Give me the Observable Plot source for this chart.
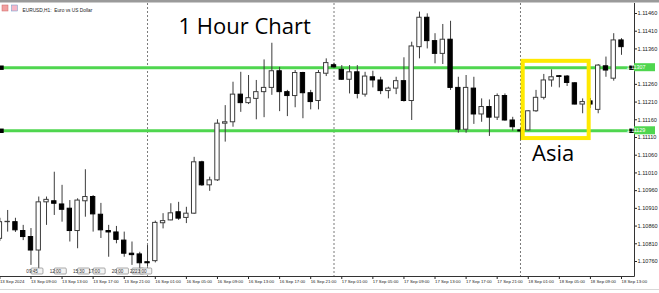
<!DOCTYPE html>
<html><head><meta charset="utf-8">
<script src="https://cdn.jsdelivr.net/npm/d3@7"></script>
<script src="https://cdn.jsdelivr.net/npm/@observablehq/plot@0.6"></script>
<style>html,body{margin:0;padding:0;background:#fff;overflow:hidden}</style>
</head><body><div id="chart"></div>
<script>
// EURUSD H1, bars 13 Sep 05:00 .. 18 Sep 13:00 (index 0..80)
const opens = [1.10824,1.10871,1.10871,1.10846,1.10829,1.10791,1.10927,1.10930,1.10921,1.10909,
1.10846,1.10930,1.10942,1.10892,1.10846,1.10842,1.10819,1.10782,1.10780,1.10758,
1.10761,1.10868,1.10876,1.10899,1.10883,1.10895,1.11040,1.10975,1.10989,1.11149,
1.11153,1.11231,1.11207,1.11219,1.11238,1.11250,1.11297,1.11238,1.11227,1.11292,
1.11235,1.11213,1.11290,1.11314,1.11301,1.11273,1.11294,1.11231,1.11280,1.11271,
1.11241,1.11248,1.11269,1.11213,1.11365,1.11448,1.11382,1.11346,1.11386,1.11250,
1.11132,1.11248,1.11175,1.11196,1.11166,1.11227,1.11158,1.11130,1.11130,1.11184,
1.11222,1.11271,1.11283,1.11282,1.11263,1.11203,1.11212,1.11188,1.11311,1.11276,1.11384];
const highs = [1.10882,1.10904,1.10882,1.10862,1.10853,1.10942,1.10942,1.11012,1.10975,1.10932,
1.10937,1.11019,1.10946,1.10924,1.10862,1.10859,1.10843,1.10815,1.10786,1.10805,
1.10874,1.10895,1.10923,1.10927,1.10913,1.11054,1.11043,1.10998,1.11160,1.11200,
1.11266,1.11294,1.11285,1.11271,1.11329,1.11376,1.11308,1.11243,1.11299,1.11294,
1.11243,1.11299,1.11332,1.11320,1.11313,1.11313,1.11313,1.11294,1.11297,1.11280,
1.11252,1.11280,1.11335,1.11379,1.11464,1.11459,1.11403,1.11429,1.11438,1.11280,
1.11285,1.11280,1.11219,1.11216,1.11233,1.11233,1.11167,1.11136,1.11186,1.11243,
1.11288,1.11301,1.11285,1.11285,1.11265,1.11219,1.11220,1.11316,1.11337,1.11403,1.11389];
const lows = [1.10817,1.10843,1.10842,1.10819,1.10749,1.10740,1.10862,1.10890,1.10871,1.10815,
1.10796,1.10885,1.10843,1.10825,1.10772,1.10810,1.10772,1.10749,1.10739,1.10744,
1.10756,1.10852,1.10875,1.10876,1.10867,1.10893,1.10972,1.10958,1.10986,1.11097,
1.11139,1.11181,1.11203,1.11160,1.11166,1.11229,1.11183,1.11169,1.11194,1.11163,
1.11188,1.11188,1.11282,1.11304,1.11271,1.11233,1.11219,1.11224,1.11250,1.11231,
1.11219,1.11231,1.11210,1.11158,1.11332,1.11360,1.11318,1.11316,1.11243,1.11122,
1.11122,1.11147,1.11153,1.11113,1.11158,1.11156,1.11128,1.11102,1.11128,1.11181,
1.11216,1.11252,1.11250,1.11254,1.11202,1.11177,1.11192,1.11177,1.11280,1.11269,1.11342];
const closes = [1.10871,1.10872,1.10848,1.10829,1.10791,1.10927,1.10934,1.10923,1.10906,1.10846,
1.10932,1.10942,1.10893,1.10848,1.10842,1.10821,1.10782,1.10778,1.10755,1.10755,
1.10869,1.10874,1.10896,1.10881,1.10895,1.11040,1.10975,1.10989,1.11149,1.11153,
1.11231,1.11207,1.11221,1.11238,1.11250,1.11297,1.11238,1.11227,1.11292,1.11235,
1.11210,1.11292,1.11320,1.11308,1.11273,1.11294,1.11233,1.11282,1.11271,1.11241,
1.11248,1.11269,1.11213,1.11367,1.11448,1.11382,1.11346,1.11386,1.11250,1.11132,
1.11250,1.11175,1.11196,1.11166,1.11227,1.11158,1.11139,1.11127,1.11184,1.11222,
1.11271,1.11280,1.11281,1.11264,1.11203,1.11210,1.11203,1.11313,1.11299,1.11384,1.11365];

const xTickIdx = [0,4,8,12,16,20,24,28,32,36,40,44,48,52,56,60,64,68,72,76,80];
const xTickLabels = ["13 Sep 2024","13 Sep 09:00","13 Sep 13:00","13 Sep 17:00","13 Sep 21:00",
"16 Sep 01:00","16 Sep 05:00","16 Sep 09:00","16 Sep 13:00","16 Sep 17:00","16 Sep 21:00",
"17 Sep 01:00","17 Sep 05:00","17 Sep 09:00","17 Sep 13:00","17 Sep 17:00","17 Sep 21:00",
"18 Sep 01:00","18 Sep 05:00","18 Sep 09:00","18 Sep 13:00"];
const yTicks = [1.11460,1.11410,1.11360,1.11260,1.11210,1.11160,1.11110,1.11060,1.11010,1.10960,1.10910,1.10860,1.10810,1.10760];
const daySeparators = [19,43,67];
const levels = [1.11307,1.11129];
const eventIdx = [4,7,10,12,15,17,18];
const eventLabels = ["09:45","12:00","15:30","17:00","20:00","22:00","23:00"];
const asiaBox = [{start:67.35, end:75.84, low:1.11107, high:1.11325}];
const asiaLabel = [{x:71.2, y:1.11063, text:"Asia"}];

const bars = opens.map((o,i)=>({i, open:o, high:highs[i], low:lows[i], close:closes[i]}));
const tickMap = new Map(xTickIdx.map((d,k)=>[d,xTickLabels[k]]));
const axisFont = "Liberation Sans, Arial, sans-serif";
const bigFont = "Open Sans, sans-serif";

const chart = Plot.plot({
  width:659, height:293,
  marginTop:3, marginRight:25, marginBottom:17, marginLeft:0,
  style:{background:"#fff", fontFamily:axisFont, overflow:"visible"},
  x:{type:"linear", domain:[0,80], range:[-0.6,621]},
  y:{type:"linear", domain:[1.10760, 1.11460], range:[261,13]},
  marks:[
    Plot.ruleX(daySeparators, {x:d=>d, stroke:"#7a7a7a", strokeDasharray:"2,2", strokeWidth:1}),
    Plot.ruleY(levels, {y:d=>d, stroke:"#4fd64f", strokeWidth:3}),
    Plot.ruleX(bars, {x:"i", y1:"low", y2:"high", stroke:"#3c3c3c", strokeWidth:1}),
    Plot.rect(bars, {x1:d=>d.i-0.28, x2:d=>d.i+0.28, y1:"open", y2:"close",
      fill:d=>d.close>=d.open?"#fff":"#000", stroke:d=>d.close>=d.open?"#3c3c3c":"#000", strokeWidth:1}),
    Plot.dot(levels, {y:d=>d, frameAnchor:"left", dx:1, symbol:"square", r:2.5, fill:"#000"}),
    Plot.dot(levels, {y:d=>d, frameAnchor:"right", dx:-3, symbol:"square", r:2.5, fill:"#000"}),
    Plot.rect(asiaBox, {x1:"start", x2:"end", y1:"low", y2:"high", fill:"none", stroke:"#ffe900", strokeWidth:4}),
    Plot.text(asiaLabel, {x:"x", y:"y", text:"text", fontSize:22, fontFamily:bigFont, fill:"#000", textAnchor:"middle"}),
    Plot.text(["1 Hour Chart"], {frameAnchor:"top-left", dx:178, dy:15, text:d=>d, fontSize:22, fontFamily:bigFont, fill:"#000", textAnchor:"start", lineAnchor:"top"}),
    Plot.text(["EURUSD,H1:  Euro vs US Dollar"], {frameAnchor:"top-left", dx:22, dy:5, text:d=>d, fontSize:4.8, fill:"#222", textAnchor:"start"}),
    Plot.axisY({anchor:"right", ticks:yTicks, tickFormat:d=>d.toFixed(5), tickSize:2, tickPadding:1, fontSize:5.6, color:"#222", label:null}),
    Plot.axisX({anchor:"bottom", ticks:xTickIdx, tickFormat:d=>tickMap.get(d), textAnchor:"start", tickSize:3, tickPadding:0, fontSize:4.3, color:"#222", label:null})
  ]
});
document.getElementById("chart").appendChild(chart);

// chrome: borders, level tags, event markers, header icons
const svg = d3.select(chart);
const sx = chart.scale("x"), sy = chart.scale("y");
const g = svg.append("g");
g.append("rect").attr("x",0).attr("y",0).attr("width",659).attr("height",2.5).attr("fill","#9a9a9a");
g.append("line").attr("x1",634.5).attr("x2",634.5).attr("y1",3).attr("y2",276.5).attr("stroke","#333");
g.append("line").attr("x1",0).attr("x2",634.5).attr("y1",276.5).attr("y2",276.5).attr("stroke","#333");
g.append("line").attr("x1",0).attr("x2",659).attr("y1",289.5).attr("y2",289.5).attr("stroke","#d8d8d8");
levels.forEach(v=>{
  const y = sy.apply(v);
  g.append("rect").attr("x",634).attr("y",y-4).attr("width",21).attr("height",8).attr("fill","#4fd64f");
  g.append("text").attr("x",636).attr("y",y+2).attr("font-size",5.4).attr("fill","#fff").attr("font-family",axisFont).text(v.toFixed(5));
});
const clip = svg.append("defs").append("clipPath").attr("id","evclip");
eventIdx.forEach((ix,k)=>{
  const x = sx.apply(ix);
  const next = k+1<eventIdx.length ? sx.apply(eventIdx[k+1]) : x+20;
  const w = Math.min(12, next - x);
  clip.append("rect").attr("x",x).attr("y",266).attr("width",w+0.3).attr("height",10);
});
eventIdx.forEach((ix,k)=>{
  const x = sx.apply(ix);
  const next = k+1<eventIdx.length ? sx.apply(eventIdx[k+1]) : x+20;
  const eg = g.append("g");
  eg.append("rect").attr("x",x+0.5).attr("y",268).attr("width",12).attr("height",6).attr("rx",1)
    .attr("fill","#f4f4f4").attr("stroke","#888").attr("stroke-width",0.7);
  const label = (next - x) < 11 ? eventLabels[k].slice(0,3) : eventLabels[k];
  eg.append("text").attr("x",x+1.6).attr("y",272.7).attr("font-size",4.6).attr("fill","#333").attr("font-family",axisFont).text(label);
});
g.append("rect").attr("x",2).attr("y",5).attr("width",6).attr("height",6).attr("fill","#f2a0a0").attr("stroke","#c66").attr("stroke-width",0.5);
g.append("rect").attr("x",11.5).attr("y",5).attr("width",6).attr("height",6).attr("fill","#f7b7c8").attr("stroke","#69c").attr("stroke-width",0.5);
</script>
</body></html>
